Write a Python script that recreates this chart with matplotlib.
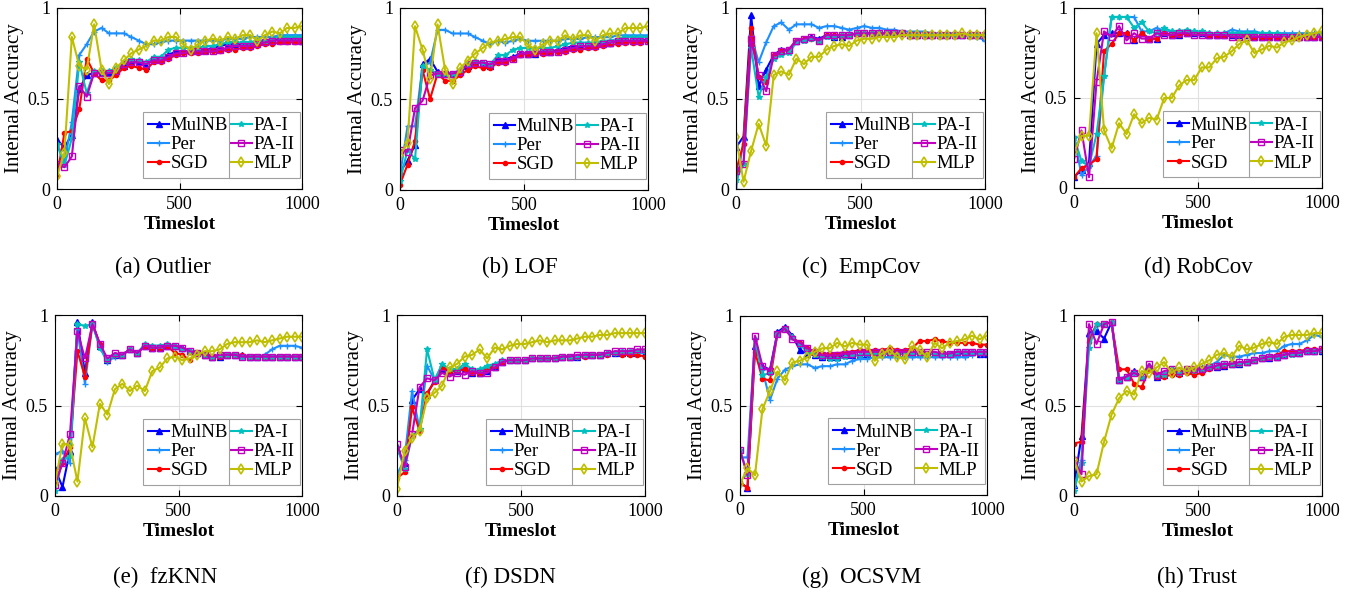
import numpy as np
import matplotlib
matplotlib.use("Agg")
import matplotlib.pyplot as plt
from matplotlib.lines import Line2D

plt.rcParams['font.family'] = ['Liberation Serif', 'DejaVu Serif']

# timeslots sampled along the run (34 samples, 0..1000)
timeslots = np.linspace(0, 1000, 34)

methods = ["MulNB", "Per", "SGD", "PA-I", "PA-II", "MLP"]

outlier = {
    "MulNB": [.27, .23, .30, .55, .63, .64, .64, .64, .65, .68, .70, .70, .68, .72, .72, .74, .76, .76, .76, .76, .77, .78, .79, .80, .80, .80, .80, .81, .82, .82, .83, .83, .83, .82],
    "Per":   [.25, .15, .37, .74, .80, .87, .89, .86, .86, .86, .84, .82, .80, .80, .81, .82, .82, .82, .82, .82, .82, .82, .82, .83, .83, .83, .84, .84, .84, .84, .85, .85, .85, .85],
    "SGD":   [.07, .31, .32, .44, .72, .64, .60, .60, .63, .67, .68, .67, .66, .70, .70, .72, .74, .75, .75, .75, .76, .76, .76, .77, .77, .78, .78, .79, .80, .80, .81, .81, .81, .82],
    "PA-I":  [.25, .13, .28, .70, .53, .65, .65, .65, .67, .70, .72, .71, .70, .73, .73, .77, .78, .78, .78, .78, .79, .79, .80, .81, .81, .81, .81, .82, .82, .83, .84, .84, .84, .84],
    "PA-II": [.14, .12, .18, .57, .51, .64, .64, .64, .65, .69, .70, .70, .69, .71, .71, .73, .75, .75, .76, .76, .76, .76, .77, .78, .79, .79, .79, .80, .81, .82, .82, .82, .82, .82],
    "MLP":   [.07, .20, .84, .68, .66, .91, .66, .58, .67, .71, .75, .77, .79, .82, .82, .84, .84, .80, .77, .80, .82, .83, .82, .84, .83, .85, .85, .82, .85, .87, .86, .89, .89, .90],
}

lof = {
    "MulNB": [.10, .16, .25, .69, .72, .65, .64, .64, .65, .68, .70, .70, .68, .72, .72, .73, .75, .75, .75, .76, .76, .77, .78, .79, .79, .79, .80, .81, .81, .82, .82, .82, .82, .83],
    "Per":   [.08, .35, .35, .68, .70, .88, .88, .86, .86, .86, .84, .82, .80, .82, .81, .82, .83, .82, .82, .82, .82, .82, .83, .83, .83, .84, .84, .84, .84, .85, .85, .85, .85, .85],
    "SGD":   [.03, .14, .27, .66, .50, .64, .60, .60, .63, .66, .68, .67, .67, .70, .70, .72, .74, .75, .75, .75, .76, .76, .76, .77, .77, .78, .78, .79, .80, .80, .81, .81, .81, .82],
    "PA-I":  [.05, .22, .17, .68, .66, .64, .64, .64, .66, .69, .71, .70, .69, .74, .74, .77, .78, .78, .78, .78, .78, .79, .80, .81, .81, .81, .81, .82, .82, .83, .84, .84, .84, .84],
    "PA-II": [.22, .21, .45, .49, .63, .64, .64, .64, .65, .69, .70, .70, .69, .71, .71, .72, .75, .75, .76, .76, .76, .76, .77, .78, .79, .79, .79, .80, .81, .82, .82, .82, .82, .82],
    "MLP":   [.19, .26, .90, .77, .61, .91, .66, .58, .67, .71, .75, .78, .81, .82, .83, .84, .84, .80, .77, .80, .82, .82, .85, .83, .85, .85, .82, .85, .86, .86, .89, .89, .89, .90],
}

empcov = {
    "MulNB": [.23, .29, .96, .57, .66, .74, .77, .77, .82, .83, .84, .83, .85, .84, .84, .85, .86, .86, .86, .86, .86, .86, .86, .85, .85, .85, .85, .85, .85, .85, .85, .85, .85, .84],
    "Per":   [.00, .27, .85, .70, .81, .90, .92, .88, .91, .91, .91, .89, .90, .90, .89, .88, .89, .90, .89, .89, .88, .88, .87, .87, .87, .87, .86, .86, .86, .86, .85, .85, .84, .82],
    "SGD":   [.10, .25, .89, .62, .59, .74, .76, .77, .82, .83, .83, .82, .85, .85, .85, .85, .86, .86, .86, .86, .86, .86, .86, .85, .85, .85, .85, .85, .85, .85, .85, .85, .85, .85],
    "PA-I":  [.05, .14, .78, .51, .62, .72, .74, .75, .81, .82, .83, .82, .84, .84, .85, .85, .86, .86, .86, .86, .86, .86, .86, .85, .85, .85, .85, .85, .85, .85, .85, .85, .85, .85],
    "PA-II": [.10, .14, .83, .63, .54, .74, .76, .77, .82, .83, .84, .82, .85, .85, .85, .85, .86, .86, .86, .86, .86, .86, .86, .85, .85, .85, .85, .85, .85, .85, .85, .85, .85, .85],
    "MLP":   [.29, .04, .21, .36, .24, .63, .65, .63, .72, .69, .73, .73, .77, .79, .80, .79, .82, .83, .83, .84, .84, .84, .85, .85, .85, .85, .85, .85, .85, .85, .86, .85, .85, .85],
}

robcov = {
    "MulNB": [.06, .10, .14, .80, .85, .86, .86, .86, .82, .86, .83, .83, .86, .85, .85, .86, .86, .86, .85, .85, .85, .85, .85, .85, .84, .84, .84, .84, .84, .84, .84, .84, .84, .84],
    "Per":   [.29, .07, .12, .18, .62, .95, .95, .95, .95, .87, .87, .89, .87, .87, .87, .87, .87, .86, .86, .86, .86, .88, .87, .87, .87, .86, .86, .86, .86, .86, .86, .86, .86, .86],
    "SGD":   [.06, .11, .13, .16, .76, .80, .86, .86, .82, .86, .83, .83, .86, .85, .85, .86, .86, .86, .85, .85, .85, .85, .85, .85, .84, .84, .84, .84, .84, .84, .84, .84, .84, .84],
    "PA-I":  [.28, .15, .12, .30, .62, .95, .95, .95, .89, .92, .87, .86, .89, .87, .87, .88, .87, .87, .86, .86, .86, .86, .86, .86, .86, .86, .86, .86, .85, .85, .85, .85, .85, .85],
    "PA-II": [.16, .32, .06, .59, .87, .84, .90, .82, .86, .83, .83, .86, .85, .85, .86, .86, .85, .85, .85, .85, .85, .84, .84, .84, .84, .84, .84, .84, .84, .84, .84, .84, .84, .84],
    "MLP":   [.20, .29, .29, .86, .32, .22, .36, .30, .41, .36, .39, .38, .50, .50, .57, .60, .60, .67, .67, .72, .73, .76, .80, .82, .75, .77, .79, .78, .81, .82, .84, .85, .86, .87],
}

fzknn = {
    "MulNB": [.15, .05, .25, .96, .68, .96, .83, .75, .78, .78, .81, .79, .83, .82, .82, .83, .83, .82, .80, .79, .78, .77, .77, .78, .78, .78, .77, .77, .77, .77, .77, .77, .77, .77],
    "Per":   [.23, .25, .18, .92, .62, .95, .82, .74, .77, .78, .81, .79, .83, .83, .83, .83, .82, .81, .80, .79, .78, .77, .78, .78, .78, .77, .77, .77, .78, .81, .83, .83, .83, .82],
    "SGD":   [.13, .18, .27, .80, .66, .95, .84, .75, .78, .78, .81, .79, .83, .82, .82, .83, .79, .78, .75, .79, .78, .77, .77, .78, .78, .78, .77, .77, .77, .77, .77, .77, .77, .77],
    "PA-I":  [.03, .20, .22, .95, .94, .95, .82, .75, .78, .78, .81, .79, .84, .83, .83, .84, .83, .81, .80, .79, .78, .77, .78, .78, .78, .77, .77, .77, .77, .77, .77, .77, .77, .77],
    "PA-II": [.06, .18, .34, .91, .76, .95, .84, .76, .79, .78, .81, .79, .83, .82, .82, .83, .83, .82, .80, .79, .78, .77, .78, .78, .78, .77, .77, .77, .77, .77, .77, .77, .77, .77],
    "MLP":   [.07, .29, .28, .08, .43, .27, .51, .45, .59, .62, .58, .61, .58, .69, .71, .76, .77, .75, .76, .78, .80, .80, .81, .84, .85, .85, .85, .86, .85, .86, .87, .88, .88, .88],
}

dsdn = {
    "MulNB": [.26, .18, .53, .59, .56, .64, .70, .69, .69, .70, .68, .68, .69, .71, .74, .75, .75, .75, .76, .76, .76, .76, .77, .77, .77, .78, .78, .78, .79, .79, .79, .79, .79, .79],
    "Per":   [.12, .20, .58, .37, .72, .64, .72, .70, .70, .71, .69, .69, .71, .72, .74, .75, .75, .75, .76, .76, .76, .76, .77, .77, .77, .78, .78, .78, .79, .79, .79, .79, .79, .79],
    "SGD":   [.10, .13, .49, .36, .57, .63, .71, .69, .69, .70, .68, .68, .70, .72, .74, .75, .75, .75, .76, .76, .76, .76, .77, .77, .77, .77, .78, .78, .78, .79, .78, .78, .78, .77],
    "PA-I":  [.27, .15, .33, .37, .81, .64, .73, .70, .70, .73, .70, .70, .72, .73, .75, .75, .75, .75, .76, .76, .76, .76, .77, .77, .77, .78, .78, .78, .79, .79, .80, .80, .80, .80],
    "PA-II": [.29, .16, .34, .60, .65, .64, .68, .66, .68, .67, .69, .68, .68, .71, .74, .75, .75, .75, .76, .76, .76, .76, .77, .77, .78, .78, .78, .78, .79, .80, .80, .80, .81, .81],
    "MLP":   [.04, .25, .32, .36, .54, .57, .61, .71, .73, .77, .78, .81, .76, .82, .81, .83, .84, .84, .85, .86, .85, .86, .86, .86, .87, .88, .88, .89, .89, .90, .90, .90, .90, .90],
}

ocsvm = {
    "MulNB": [.07, .04, .83, .72, .70, .91, .94, .89, .81, .79, .78, .77, .77, .77, .78, .78, .78, .79, .79, .79, .79, .79, .79, .79, .79, .79, .79, .79, .79, .79, .79, .80, .79, .79],
    "Per":   [.21, .21, .87, .70, .53, .65, .70, .72, .73, .73, .71, .72, .72, .73, .73, .75, .76, .76, .77, .77, .77, .77, .77, .77, .77, .77, .77, .77, .77, .77, .77, .78, .79, .79],
    "SGD":   [.07, .04, .80, .65, .64, .90, .93, .88, .85, .82, .80, .79, .79, .79, .80, .80, .81, .81, .81, .81, .82, .81, .81, .82, .86, .86, .87, .86, .85, .85, .85, .85, .84, .84],
    "PA-I":  [.25, .12, .87, .67, .68, .90, .93, .88, .84, .80, .78, .77, .76, .76, .77, .78, .78, .79, .79, .79, .79, .79, .79, .79, .79, .79, .79, .79, .79, .80, .80, .80, .80, .80],
    "PA-II": [.25, .11, .89, .72, .69, .90, .93, .87, .85, .82, .80, .78, .78, .78, .79, .79, .80, .80, .80, .80, .80, .80, .80, .80, .80, .80, .80, .79, .79, .80, .80, .80, .80, .80],
    "MLP":   [.06, .15, .11, .48, .58, .69, .64, .74, .75, .77, .80, .82, .82, .85, .83, .85, .84, .84, .75, .79, .81, .77, .76, .83, .81, .77, .85, .82, .85, .86, .87, .89, .87, .89],
}

trust = {
    "MulNB": [.06, .33, .90, .91, .87, .96, .64, .66, .69, .66, .72, .66, .67, .70, .68, .70, .69, .70, .71, .71, .72, .73, .73, .74, .75, .76, .76, .77, .78, .79, .79, .80, .80, .80],
    "Per":   [.05, .20, .88, .94, .95, .96, .65, .66, .68, .66, .71, .68, .67, .70, .68, .70, .70, .71, .72, .74, .78, .77, .77, .78, .79, .79, .80, .80, .83, .84, .84, .86, .89, .88],
    "SGD":   [.29, .30, .85, .95, .95, .96, .70, .70, .62, .60, .70, .66, .66, .67, .67, .68, .67, .68, .70, .71, .72, .73, .73, .74, .75, .76, .77, .78, .80, .80, .80, .81, .81, .81],
    "PA-I":  [.03, .18, .82, .95, .95, .96, .64, .66, .68, .66, .72, .67, .67, .70, .68, .70, .69, .70, .71, .72, .73, .73, .73, .74, .75, .76, .77, .77, .78, .78, .79, .80, .80, .80],
    "PA-II": [.20, .12, .95, .84, .95, .96, .64, .66, .68, .66, .73, .67, .69, .70, .69, .70, .70, .70, .71, .72, .73, .73, .74, .74, .75, .76, .77, .77, .78, .79, .79, .80, .80, .81],
    "MLP":   [.20, .08, .11, .12, .30, .45, .54, .58, .56, .69, .68, .71, .74, .68, .71, .69, .71, .73, .75, .78, .79, .77, .83, .81, .82, .84, .85, .84, .88, .89, .89, .89, .90, .90],
}

panels = [outlier, lof, empcov, robcov, fzknn, dsdn, ocsvm, trust]
captions = ["(a) Outlier", "(b) LOF", "(c)  EmpCov", "(d) RobCov",
            "(e)  fzKNN", "(f) DSDN", "(g)  OCSVM", "(h) Trust"]

styles = {
    "MulNB": dict(color='#0000FF', marker='^', ms=5, mfc='#0000FF'),
    "Per":   dict(color='#1E8FFF', marker='+', ms=5, mew=1.0),
    "SGD":   dict(color='#FF0000', marker='.', ms=6),
    "PA-I":  dict(color='#00BFBF', marker='*', ms=4),
    "PA-II": dict(color='#BF00BF', marker='s', ms=4, mfc='none'),
    "MLP":   dict(color='#BFBF00', marker='d', ms=5, mfc='none', mew=1.2),
}

W, H = 1364, 598
fig = plt.figure(figsize=(W / 100, H / 100), dpi=100)

# axes boxes in pixels: left, right, top, bottom
boxes = [(57, 302, 8, 189), (400, 648, 8, 190), (736, 985, 8, 189), (1074, 1322, 8, 188),
         (55, 302, 315, 496), (397, 645, 315, 496), (740, 987, 316, 495), (1074, 1322, 315, 496)]
cap_x = [163, 520, 861, 1198, 165, 510, 862, 1197]
cap_y = [267, 267, 267, 267, 577, 577, 577, 577]

legends = []
for k, (data, box) in enumerate(zip(panels, boxes)):
    l, r, t, b = box
    ax = fig.add_axes([l / W, 1 - b / H, (r - l) / W, (b - t) / H])
    for m in methods:
        ax.plot(timeslots, data[m], lw=1.5, label=m, **styles[m])
    ax.set_xlim(0, 1000)
    ax.set_ylim(0, 1)
    ax.set_xticks([0, 500, 1000])
    ax.set_yticks([0, 0.5, 1])
    ax.set_yticklabels(["0", "0.5", "1"])
    ax.grid(True, color='#E0E0E0', lw=0.8)
    ax.set_axisbelow(True)
    ax.tick_params(direction='in', top=True, right=True, length=4, labelsize=13, pad=5)
    ax.set_xlabel("Timeslot", fontsize=14, fontweight='bold', labelpad=2)
    ax.set_ylabel("Internal Accuracy", fontsize=15, labelpad=3)
    leg = ax.legend(ncol=2, loc='lower right', bbox_to_anchor=(1.0, 0.05), fontsize=13.5,
                    frameon=True, fancybox=False, edgecolor='#A0A0A0', framealpha=1,
                    handlelength=1.1, handletextpad=0.1, columnspacing=0.15,
                    labelspacing=0.1, borderpad=0.3, borderaxespad=0.1)
    leg.get_frame().set_linewidth(0.8)
    legends.append(leg)
    fig.text(cap_x[k] / W, 1 - cap_y[k] / H, captions[k], fontsize=16.5,
             ha='center', va='center')

# MATLAB-style divider between the two legend columns
fig.canvas.draw()
for leg in legends:
    bb = leg.get_window_extent()
    texts = leg.get_texts()
    xsep = max(tx.get_window_extent().x1 for tx in texts[:3]) + 1
    fig.add_artist(Line2D([xsep / W, xsep / W], [bb.y0 / H, bb.y1 / H],
                          transform=fig.transFigure, color='#A0A0A0', lw=0.8))

fig.savefig("out.png", dpi=100)
